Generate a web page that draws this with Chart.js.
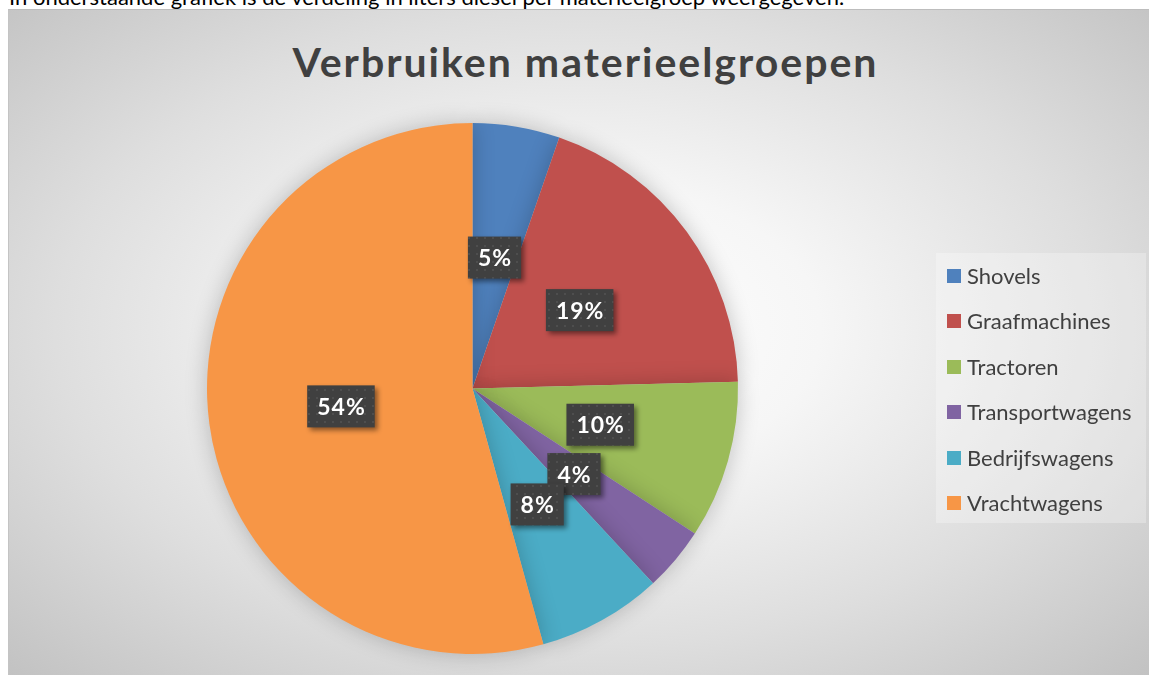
<!DOCTYPE html>
<html>
<head>
<meta charset="utf-8">
<script src="https://cdn.jsdelivr.net/npm/chart.js@4.4.0/dist/chart.umd.min.js"></script>
<style>
  html, body { margin:0; padding:0; background:#fff; width:1149px; height:675px; overflow:hidden; font-family:Lato, "Open Sans", sans-serif; }
  #intro { position:absolute; left:9px; top:-14px; font-size:22px; line-height:22px; color:#000; white-space:nowrap; }
  #frame { position:absolute; left:8px; top:9px; width:1141px; height:666px; box-sizing:border-box; border-top:1px solid #bdbdbd; border-left:1px solid #c4c4c4;
           background: radial-gradient(ellipse farthest-corner at 50% 48%, #ffffff 0%, #f6f6f6 30%, #dedede 65%, #c2c2c2 100%); }
  #title { position:absolute; left:6px; top:0; width:1141px; text-align:center; font-weight:bold; font-size:41px; letter-spacing:2px; line-height:46px; padding-top:29px; color:#404040; white-space:nowrap; }
  #chartBox { position:absolute; left:0; top:0; width:1141px; height:666px; }
  #legend { position:absolute; left:927px; top:243px; width:210px; height:270px; background:rgba(255,255,255,0.28); }
  .item { position:absolute; left:11px; height:24px; font-size:22px; line-height:24px; color:#404040; white-space:nowrap; }
  .item span { position:absolute; left:0; top:5px; width:14px; height:14px; }
  .item b { position:absolute; left:20px; top:0; font-weight:normal; }
</style>
</head>
<body>
<div id="intro">In onderstaande grafiek is de verdeling in liters diesel per materieelgroep weergegeven.</div>
<div id="frame">
  <div id="title">Verbruiken materieelgroepen</div>
  <div id="chartBox"><canvas id="c"></canvas></div>
  <div id="legend"></div>
</div>
<script>
// Verbruik diesel per materieelgroep (aandeel in %)
const groepen = ['Shovels', 'Graafmachines', 'Tractoren', 'Transportwagens', 'Bedrijfswagens', 'Vrachtwagens'];
const aandeel = [5.3, 19.3, 9.6, 3.9, 7.6, 54.3];
const kleuren = ['#4F81BD', '#C0504D', '#9BBB59', '#8064A2', '#4BACC6', '#F79646'];

// legend
const legend = document.getElementById('legend');
groepen.forEach((g, i) => {
    const it = document.createElement('div');
    it.className = 'item';
    it.style.top = (10.5 + i * 45.5) + 'px';
    it.innerHTML = '<span style="background:' + kleuren[i] + '"></span><b>' + g + '</b>';
    legend.appendChild(it);
});

// dotted dark fill for the labels
const pat = document.createElement('canvas');
pat.width = 8; pat.height = 8;
const pc = pat.getContext('2d');
pc.fillStyle = '#404040'; pc.fillRect(0, 0, 8, 8);
pc.fillStyle = '#4e4e4e'; pc.fillRect(3, 3, 2, 2);

const pieShadow = {
    id: 'pieShadow',
    beforeDatasetsDraw(chart) {
        const ctx = chart.ctx;
        ctx.save();
        ctx.shadowColor = 'rgba(0,0,0,0.22)';
        ctx.shadowBlur = 22;
    },
    afterDatasetsDraw(chart) {
        chart.ctx.restore();
    }
};

const pctLabels = {
    id: 'pctLabels',
    afterDatasetsDraw(chart) {
        const ctx = chart.ctx;
        const meta = chart.getDatasetMeta(0);
        const total = aandeel.reduce((a, b) => a + b, 0);
        ctx.save();
        ctx.font = 'bold 23px Lato';
        ctx.letterSpacing = '1px';
        ctx.textAlign = 'center';
        ctx.textBaseline = 'middle';
        const fill = ctx.createPattern(pat, 'repeat');
        meta.data.forEach((arc, i) => {
            const p = arc.tooltipPosition();
            const txt = Math.round(aandeel[i] / total * 100) + '%';
            const w = ctx.measureText(txt).width + 19;
            const h = 42;
            ctx.save();
            ctx.shadowColor = 'rgba(0,0,0,0.45)';
            ctx.shadowBlur = 5;
            ctx.shadowOffsetX = 3;
            ctx.shadowOffsetY = 3;
            ctx.fillStyle = fill;
            ctx.fillRect(p.x - w / 2, p.y - h / 2, w, h);
            ctx.restore();
            ctx.fillStyle = '#ffffff';
            ctx.fillText(txt, p.x + 0.5, p.y + 1);
        });
        ctx.restore();
    }
};

new Chart(document.getElementById('c'), {
    type: 'pie',
    data: {
        labels: groepen,
        datasets: [{ data: aandeel, backgroundColor: kleuren, borderWidth: 0 }]
    },
    options: {
        responsive: true,
        maintainAspectRatio: false,
        animation: false,
        layout: { padding: { left: 0, right: 214, top: 113, bottom: 22 } },
        plugins: {
            legend: { display: false },
            tooltip: { enabled: false },
            title: { display: false }
        }
    },
    plugins: [pieShadow, pctLabels]
});
</script>
</body>
</html>
